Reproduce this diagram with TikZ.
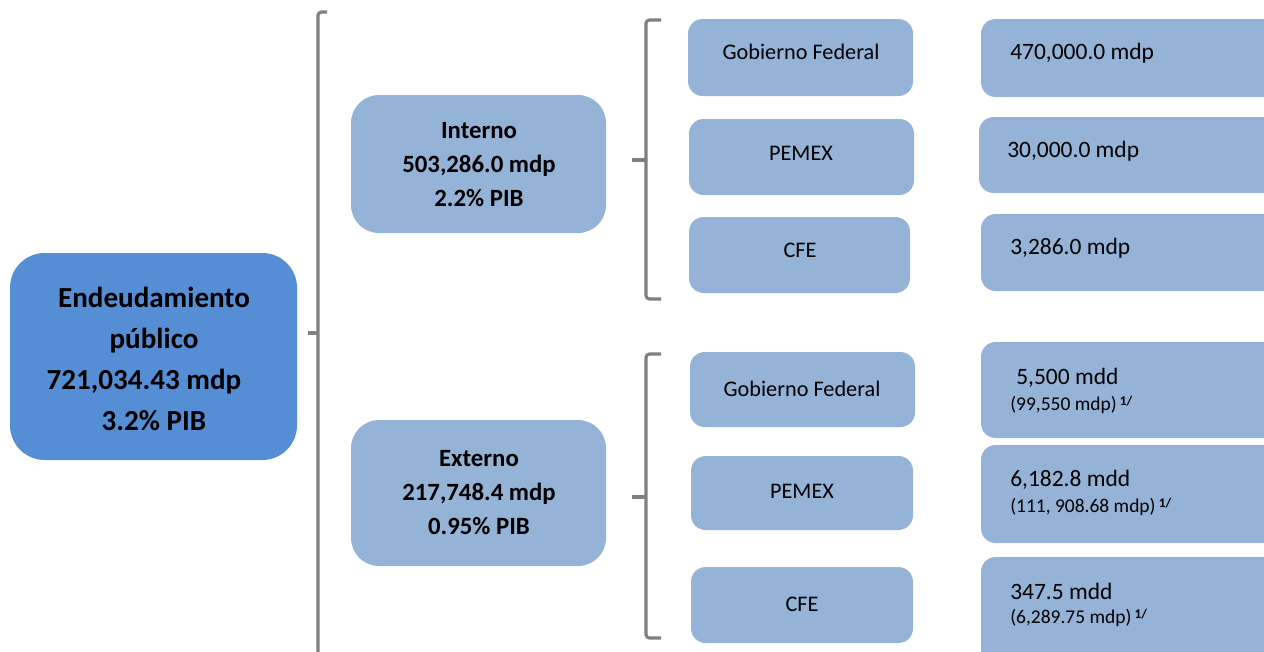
\documentclass[tikz,border=0pt]{standalone}
\usepackage{fontspec}
\setmainfont{Carlito}
\definecolor{mainblue}{HTML}{558ED5}
\definecolor{lightblue}{HTML}{95B3D7}
\definecolor{brkgray}{HTML}{808080}
\newcommand{\pxu}[1]{#1*0.75pt}
\newcommand{\supone}{\,\raisebox{0.6ex}{\fontsize{10}{10}\selectfont\bfseries 1/}}
\begin{document}
\begin{tikzpicture}[x=0.75pt,y=-0.75pt,
  box/.style={draw=none, inner sep=0pt, outer sep=0pt},
  darkbox/.style={box, fill=mainblue, rounded corners=26pt},
  midbox/.style={box, fill=lightblue, rounded corners=21pt, minimum width=\pxu{255}},
  entbox/.style={box, fill=lightblue, rounded corners=11pt, minimum width=\pxu{225}},
  valbox/.style={box, fill=lightblue, rounded corners=11pt, minimum width=\pxu{320}},
  brk/.style={draw=brkgray, line width=2.3pt, rounded corners=2.5pt},
  tbig/.style={inner sep=0pt, align=center, font=\fontsize{21.8}{30.8}\selectfont\bfseries},
  tmid/.style={inner sep=0pt, align=center, font=\fontsize{18.6}{25.5}\selectfont\bfseries},
  tent/.style={inner sep=0pt, font=\fontsize{16.7}{20}\selectfont},
  tval/.style={inner sep=0pt, anchor=west, font=\fontsize{17.6}{21}\selectfont},
  tsub/.style={inner sep=0pt, anchor=west, font=\fontsize{14.6}{18}\selectfont}]
\useasboundingbox (0,0) rectangle (1264,651);
\clip (0,0) rectangle (1264,651);

% main box
\node[darkbox, minimum width=\pxu{287}, minimum height=\pxu{207}] (main) at (153.5,356.5) {};
\node[tbig] (maint) at (154,359) {Endeudamiento\\público\\\mbox{721,034.43 mdp\kern15pt}\\3.2\% PIB};

% big bracket
\coordinate (b1top) at (327,12);
\coordinate (b1bot) at (318,670);
\coordinate (b1tick) at (308,333);
\draw[brk] (b1top) -- (318,12) -- (b1bot);
\draw[brk] (b1tick) -- (318,333);

% Interno / Externo
\node[midbox, minimum height=\pxu{138}] (int) at (478.5,164) {};
\node[tmid] (intt) at (479,165) {Interno\\503,286.0 mdp\\2.2\% PIB};
\node[midbox, minimum height=\pxu{146}] (ext) at (478.5,493) {};
\node[tmid] (extt) at (479,493) {Externo\\217,748.4 mdp\\0.95\% PIB};

% brackets 2 and 3
\coordinate (b2top) at (661,20);
\coordinate (b2bot) at (661,299);
\coordinate (b2tick) at (632,160);
\draw[brk] (b2top) -- (646,20) -- (646,299) -- (b2bot);
\draw[brk] (b2tick) -- (646,160);
\coordinate (b3top) at (661,354);
\coordinate (b3bot) at (661,638);
\coordinate (b3tick) at (632,497);
\draw[brk] (b3top) -- (646,354) -- (646,638) -- (b3bot);
\draw[brk] (b3tick) -- (646,497);

% entity boxes
\node[entbox, minimum height=\pxu{77}] (gf1) at (800.5,57.5) {};
\node[tent] (gf1t) at (801,52) {Gobierno Federal};
\node[entbox, minimum height=\pxu{76}] (pe1) at (801.5,157) {};
\node[tent] (pe1t) at (801,153) {PEMEX};
\node[entbox, minimum width=\pxu{221}, minimum height=\pxu{76}] (cf1) at (799.5,255) {};
\node[tent] (cf1t) at (800,250) {CFE};
\node[entbox, minimum height=\pxu{75}] (gf2) at (802.5,389.5) {};
\node[tent] (gf2t) at (802,389) {Gobierno Federal};
\node[entbox, minimum width=\pxu{222}, minimum height=\pxu{74}] (pe2) at (802,493) {};
\node[tent] (pe2t) at (802,491) {PEMEX};
\node[entbox, minimum width=\pxu{222}, minimum height=\pxu{76}] (cf2) at (802,605) {};
\node[tent] (cf2t) at (802,604) {CFE};

% value boxes
\node[valbox, minimum height=\pxu{78}] (v1) at (1141,58) {};
\node[tval] (v1t) at (1010,53) {470,000.0 mdp};
\node[valbox, minimum height=\pxu{76}] (v2) at (1139,155) {};
\node[tval] (v2t) at (1007,151) {30,000.0 mdp};
\node[valbox, minimum height=\pxu{77}] (v3) at (1141,252.5) {};
\node[tval] (v3t) at (1010,248) {3,286.0 mdp};
\node[valbox, minimum height=\pxu{96}] (v4) at (1141,390) {};
\node[tval] (v4t) at (1016,378) {5,500 mdd};
\node[tsub] (v4s) at (1010,405) {(99,550 mdp)\supone};
\node[valbox, minimum height=\pxu{98}] (v5) at (1141,494) {};
\node[tval] (v5t) at (1010,480) {6,182.8 mdd};
\node[tsub] (v5s) at (1010,507) {(111, 908.68 mdp)\supone};
\node[valbox, minimum height=\pxu{110}] (v6) at (1141,612) {};
\node[tval] (v6t) at (1010,591) {347.5 mdd};
\node[tsub] (v6s) at (1010,618) {(6,289.75 mdp)\supone};
\end{tikzpicture}
\end{document}
